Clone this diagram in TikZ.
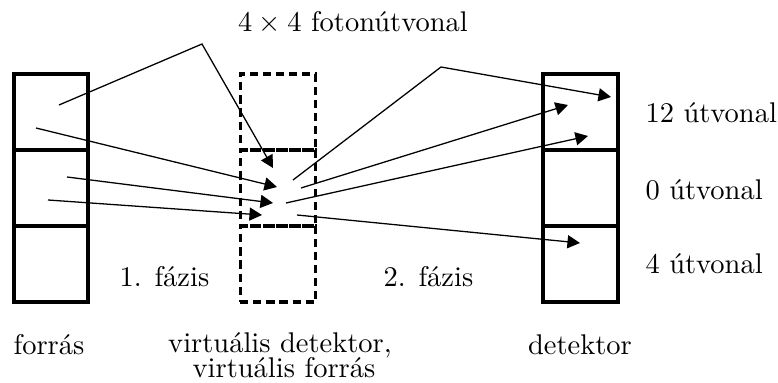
\documentclass[tikz,border=0pt]{standalone}
\usetikzlibrary{arrows.meta}
\begin{document}
\begin{tikzpicture}[x=0.351pt,y=-0.351pt,
  cell/.style={draw,line width=1.4pt,minimum width=26.3pt,minimum height=26.7pt,inner sep=0pt,outer sep=0pt},
  vcell/.style={draw,line width=1.1pt,dash pattern=on 2.9pt off 1.7pt,minimum width=26.6pt,minimum height=26.7pt,inner sep=0pt,outer sep=0pt},
  ray/.style={line width=0.45pt,-{Triangle[length=4.4pt,width=4.6pt]}},
  lbl/.style={inner sep=0pt,anchor=base},
]
\useasboundingbox (0,0) rectangle (778,383);
% source column
\node[cell] (s1) at (51,112) {};
\node[cell] (s2) at (51,188) {};
\node[cell] (s3) at (51,264) {};
% virtual column
\node[vcell] (v1) at (278,112) {};
\node[vcell] (v2) at (278,188) {};
\node[vcell] (v3) at (278,264) {};
% detector column
\node[cell] (d1) at (580.5,112) {};
\node[cell] (d2) at (580.5,188) {};
\node[cell] (d3) at (580.5,264) {};
% ray end points
\coordinate (a1) at (59,105);
\coordinate (k1) at (202,44);
\coordinate (b1) at (273,168);
\coordinate (a2) at (36,128);
\coordinate (b2) at (277,187);
\coordinate (a3) at (67,177);
\coordinate (b3) at (273,203);
\coordinate (a4) at (48,200);
\coordinate (b4) at (262,215);
\coordinate (c5) at (293,180);
\coordinate (k5) at (441,67);
\coordinate (e5) at (611,97);
\coordinate (c6) at (301,188);
\coordinate (e6) at (568,105);
\coordinate (c7) at (286,203);
\coordinate (e7) at (588,136);
\coordinate (c8) at (297,215);
\coordinate (e8) at (580,243);
% rays
\draw[ray] (a1) -- (k1) -- (b1);
\draw[ray] (a2) -- (b2);
\draw[ray] (a3) -- (b3);
\draw[ray] (a4) -- (b4);
\draw[ray] (c5) -- (k5) -- (e5);
\draw[ray] (c6) -- (e6);
\draw[ray] (c7) -- (e7);
\draw[ray] (c8) -- (e8);
% labels
\node[lbl] (title) at (353,32) {$4\times4$ fotonútvonal};
\node[lbl,anchor=base west] (p12) at (645,123) {12 útvonal};
\node[lbl,anchor=base west] (p0) at (645,200) {0 útvonal};
\node[lbl,anchor=base west] (p4) at (645,273) {4 útvonal};
\node[lbl] (f1) at (164.5,287) {1. fázis};
\node[lbl] (f2) at (428.5,287) {2. fázis};
\node[lbl] (ls) at (49,355) {forrás};
\node[lbl] (lv1) at (280,353) {virtuális detektor,};
\node[lbl] (lv2) at (284,378) {virtuális forrás};
\node[lbl] (ld) at (580,355) {detektor};
\end{tikzpicture}
\end{document}
